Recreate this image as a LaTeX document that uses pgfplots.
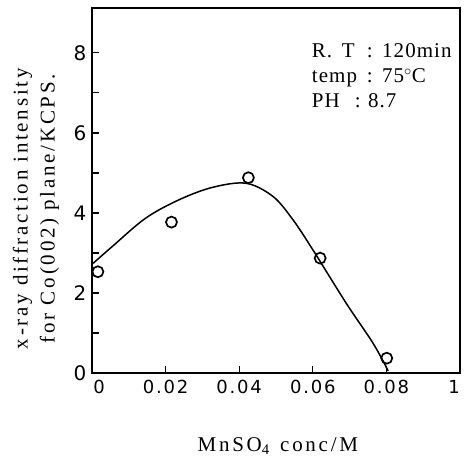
\documentclass[border=0pt]{standalone}
\usepackage{fontspec}
\setmainfont{Liberation Serif}
\newfontfamily\lblfont{Liberation Serif}[LetterSpace=13]
\newfontfamily\boxfont{Liberation Serif}[LetterSpace=5]
\newfontfamily\tickfont{DejaVu Sans}[LetterSpace=10]
\usepackage{pgfplots}
\pgfplotsset{compat=1.18}
\begin{document}
\begin{tikzpicture}
\begin{axis}[
  scale only axis,
  width=368pt, height=365pt,
  xmin=0, xmax=0.1, ymin=0, ymax=9.12,
  axis line style={line width=1.8pt},
  xtick={0,0.02,0.04,0.06,0.08,0.1},
  xticklabels={{\rule{14pt}{0pt}0},0.02,0.04,0.06,0.08,{1\rule{12pt}{0pt}}},
  ytick={0,2,4,6,8},
  minor ytick={1,3,5,7},
  tick align=inside,
  tick pos=left,
  major tick length=7pt,
  minor tick length=7pt,
  every tick/.style={black, line width=1.3pt},
  /pgf/number format/assume math mode=true,
  xticklabel style={font=\tickfont\fontsize{18}{20}\selectfont, yshift=-4pt},
  yticklabel style={font=\tickfont\fontsize{20}{22}\selectfont, xshift=-2pt},
  xlabel={MnSO\textsubscript{4}\hspace{0.5em}conc/M},
  xlabel style={font=\lblfont\fontsize{21}{24}\selectfont, at={(axis description cs:0.505,-0.2)}, anchor=center},
  ylabel={x-ray diffraction intensity\\[4pt]for Co\,(002) plane/KCPS.},
  ylabel style={font=\lblfont\fontsize{21}{23}\selectfont, align=center, at={(axis description cs:-0.152,0.45)}, anchor=center},
  clip=false,
]
\addplot[black, line width=1.5pt, smooth, tension=0.55] coordinates {
  (0.0003,2.74) (0.0055,3.16) (0.0146,3.87) (0.0237,4.33) (0.0328,4.64)
  (0.0419,4.74) (0.0492,4.41) (0.0546,3.83) (0.0600,3.08) (0.0691,1.74)
  (0.0764,0.74) (0.0805,0.05)
};
\addplot[only marks, mark=o, mark size=5.5pt, mark options={line width=1.7pt, fill=white}, black] coordinates {
  (0.0016,2.53) (0.0216,3.77) (0.0425,4.88) (0.0620,2.87) (0.0801,0.37)
};
\node[font=\boxfont\fontsize{21}{25}\selectfont, anchor=base west, align=left, inner sep=0pt] at (axis cs:0.0597,6.625) {\makebox[55pt][l]{R.~\,T}:\hspace{0.45em}120min\\\makebox[55pt][l]{temp}:\hspace{0.45em}75$^\circ$C\\\makebox[43pt][l]{PH}:\hspace{0.35em}8.7};
\end{axis}
\pgfresetboundingbox
\path (-92pt,-84pt) rectangle (372pt,373pt);
\end{tikzpicture}
\end{document}
